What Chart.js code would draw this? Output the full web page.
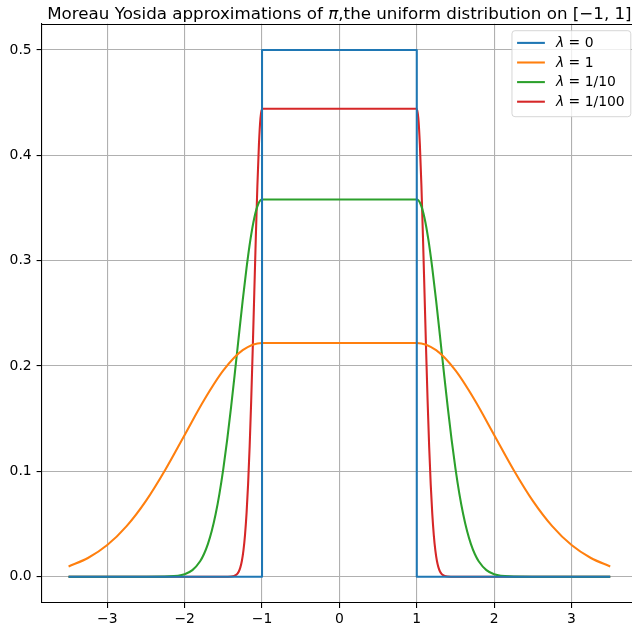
<!DOCTYPE html>
<html><head><meta charset="utf-8">
<script src="https://cdn.jsdelivr.net/npm/chart.js@4/dist/chart.umd.min.js"></script>
<style>
html,body{margin:0;padding:0;background:#fff;overflow:hidden;}
#wrap{width:632px;height:630px;overflow:hidden;position:relative;background:#fff;}
canvas{display:block;}
</style></head><body>
<div id="wrap"><canvas id="c" width="640" height="630" style="width:640px;height:630px"></canvas></div>
<script>
// ---- text ----
const titleParts = [
  {t: 'Moreau Yosida approximations of ', i: false},
  {t: 'π', i: true},
  {t: ',the uniform distribution on [−1, 1]', i: false}
];
const seriesNames = ['0', '1', '1/10', '1/100'];   // shown as "λ = name"
const seriesColors = ['#1f77b4', '#ff7f0e', '#2ca02c', '#d62728'];

// ---- ticks ----
const xTickValues = [-3, -2, -1, 0, 1, 2, 3];
const yTickValues = [0, 0.1, 0.2, 0.3, 0.4, 0.5];

// ---- data ----
const lambda0X = [-3.5, -1, -1, 1, 1, 3.5];
const lambda0Y = [0, 0, 0.5, 0.5, 0, 0];

const lambda1X = [-3.5,-3.25,-3,-2.75,-2.5,-2.25,-2,-1.75,-1.5,-1.25,-1,0,1,1.25,1.5,1.75,2,2.25,2.5,2.75,3,3.25,3.5];
const lambda1Y = [0.0097,0.0177,0.0300,0.0480,0.0720,0.1016,0.1346,0.1675,0.1958,0.2150,0.2219,0.2219,0.2219,0.2150,0.1958,0.1675,0.1346,0.1016,0.0720,0.0480,0.0300,0.0177,0.0097];

const lambda10X = [-3.5,-2.5,-2.2,-2,-1.9,-1.8,-1.75,-1.7,-1.65,-1.6,-1.55,-1.5,-1.45,-1.4,-1.35,-1.3,-1.25,-1.2,-1.15,-1.1,-1.05,-1,
  0,
  1,1.05,1.1,1.15,1.2,1.25,1.3,1.35,1.4,1.45,1.5,1.55,1.6,1.65,1.7,1.75,1.8,1.9,2,2.2,2.5,3.5];
const lambda10Y = [0,0,0.0003,0.0024,0.0062,0.0146,0.0215,0.0309,0.0433,0.0592,0.0789,0.1026,0.1301,0.1609,0.1941,0.2283,0.2620,0.2932,0.3200,0.3406,0.3536,0.3581,
  0.3581,
  0.3581,0.3536,0.3406,0.3200,0.2932,0.2620,0.2283,0.1941,0.1609,0.1301,0.1026,0.0789,0.0592,0.0433,0.0309,0.0215,0.0146,0.0062,0.0024,0.0003,0,0];

const lambda100X = [-3.5,-2,-1.5,-1.4,-1.36,-1.34,-1.32,-1.3,-1.28,-1.26,-1.24,-1.22,-1.2,-1.18,-1.16,-1.14,-1.12,-1.1,-1.08,-1.06,-1.04,-1.02,-1,
  0,
  1,1.02,1.04,1.06,1.08,1.1,1.12,1.14,1.16,1.18,1.2,1.22,1.24,1.26,1.28,1.3,1.32,1.34,1.36,1.4,1.5,2,3.5];
const lambda100Y = [0,0,0,0.0002,0.0007,0.0014,0.0027,0.0049,0.0088,0.0151,0.0249,0.0395,0.0601,0.0879,0.1235,0.1668,0.2163,0.2695,0.3226,0.3711,0.4102,0.4355,0.4443,
  0.4443,
  0.4443,0.4355,0.4102,0.3711,0.3226,0.2695,0.2163,0.1668,0.1235,0.0879,0.0601,0.0395,0.0249,0.0151,0.0088,0.0049,0.0027,0.0014,0.0007,0.0002,0,0,0];

const seriesX = [lambda0X, lambda1X, lambda10X, lambda100X];
const seriesY = [lambda0Y, lambda1Y, lambda10Y, lambda100Y];

// ---- styling ----
const FONT = "'DejaVu Sans'";
const TICK_FS = 13.9;
const TITLE_FS = 16.7;
const LW = 2.08;
const SPINE = '#000000';
const GRID = '#b0b0b0';

const minus = s => String(s).replace('-', '−');

const datasets = seriesX.map((xs, k) => ({
  label: 'λ = ' + seriesNames[k],
  data: xs.map((x, i) => ({x: x, y: seriesY[k][i]})),
  borderColor: seriesColors[k],
  backgroundColor: seriesColors[k],
  borderWidth: LW,
  pointRadius: 0,
  fill: false,
  tension: 0,
  cubicInterpolationMode: k === 0 ? 'default' : 'monotone',
  borderJoinStyle: 'round',
  borderCapStyle: 'butt'
}));

const titlePlugin = {
  id: 'mplTitle',
  afterDraw(chart) {
    const ctx = chart.ctx, a = chart.chartArea;
    ctx.save();
    ctx.fillStyle = '#000';
    ctx.textBaseline = 'alphabetic';
    const fonts = titleParts.map(p => (p.i ? 'italic ' : '') + TITLE_FS + 'px ' + FONT);
    let total = 0;
    const widths = titleParts.map((p, i) => { ctx.font = fonts[i]; const w = ctx.measureText(p.t).width; total += w; return w; });
    let x = (a.left + a.right) / 2 - total / 2;
    const y = a.top - 4.5;
    titleParts.forEach((p, i) => { ctx.font = fonts[i]; ctx.textAlign = 'left'; ctx.fillText(p.t, x, y); x += widths[i]; });
    // top spine
    ctx.strokeStyle = SPINE; ctx.lineWidth = 1.1;
    ctx.beginPath(); ctx.moveTo(a.left, Math.round(a.top) + 0.5); ctx.lineTo(a.right, Math.round(a.top) + 0.5); ctx.stroke();
    ctx.beginPath(); ctx.moveTo(Math.round(a.right) + 0.5, a.top); ctx.lineTo(Math.round(a.right) + 0.5, a.bottom); ctx.stroke();
    ctx.restore();
  }
};

const legendPlugin = {
  id: 'mplLegend',
  afterDatasetsDraw(chart) {
    const ctx = chart.ctx, a = chart.chartArea;
    const fs = TICK_FS;
    const fN = fs + 'px ' + FONT, fI = 'italic ' + fs + 'px ' + FONT;
    ctx.save();
    // measure
    let maxW = 0;
    const lam = 'λ';
    ctx.font = fI; const wl = ctx.measureText(lam).width;
    ctx.font = fN;
    chart.data.datasets.forEach((d, i) => { const w = wl + ctx.measureText(' = ' + seriesNames[i]).width; if (w > maxW) maxW = w; });
    const pad = 5.6, handle = 27.8, tpad = 11.1;
    const w = pad + handle + tpad + maxW + pad;
    const h = 86;
    const right = a.right - 7, top = a.top + 6.5;
    const left = right - w;
    ctx.beginPath();
    ctx.roundRect(left + 0.5, top + 0.5, w, h, 3);
    ctx.fillStyle = 'rgba(255,255,255,0.8)';
    ctx.fill();
    ctx.strokeStyle = 'rgba(204,204,204,0.8)';
    ctx.lineWidth = 1;
    ctx.stroke();
    chart.data.datasets.forEach((d, i) => {
      const cy = top + 12.7 + i * 19.6;
      ctx.strokeStyle = d.borderColor; ctx.lineWidth = LW;
      ctx.beginPath(); ctx.moveTo(left + pad, cy); ctx.lineTo(left + pad + handle, cy); ctx.stroke();
      ctx.fillStyle = '#000'; ctx.textBaseline = 'middle'; ctx.textAlign = 'left';
      const tx = left + pad + handle + tpad;
      ctx.font = fI; ctx.fillText(lam, tx, cy + 0.5);
      ctx.font = fN; ctx.fillText(' = ' + seriesNames[i], tx + wl, cy + 0.5);
    });
    ctx.restore();
  }
};

Chart.defaults.font.family = FONT;
Chart.defaults.color = '#000';

new Chart(document.getElementById('c'), {
  type: 'line',
  data: {datasets: datasets},
  options: {
    responsive: false,
    animation: false,
    devicePixelRatio: 1,
    layout: {padding: {top: 23.7, right: 2.7, left: 0, bottom: 0}},
    plugins: {legend: {display: false}, title: {display: false}, tooltip: {enabled: false}},
    scales: {
      x: {
        type: 'linear', min: -3.85, max: 3.85,
        afterBuildTicks: s => { s.ticks = xTickValues.map(v => ({value: v})); },
        afterFit: s => { s.height = 27; },
        grid: {color: GRID, lineWidth: 1.1, drawTicks: true, tickLength: 4.9, tickColor: SPINE, tickWidth: 1.1},
        border: {color: SPINE, width: 1.1},
        ticks: {font: {size: TICK_FS}, color: '#000', padding: 3.5, maxRotation: 0, autoSkip: false,
          callback: v => minus(v)}
      },
      y: {
        type: 'linear', min: -0.025, max: 0.525,
        afterBuildTicks: s => { s.ticks = yTickValues.map(v => ({value: v})); },
        afterFit: s => { s.width = 41.5; },
        grid: {color: GRID, lineWidth: 1.1, drawTicks: true, tickLength: 4.9, tickColor: SPINE, tickWidth: 1.1},
        border: {color: SPINE, width: 1.1},
        ticks: {font: {size: TICK_FS}, color: '#000', padding: 4.9, autoSkip: false,
          callback: v => minus(Number(v).toFixed(1))}
      }
    }
  },
  plugins: [titlePlugin, legendPlugin]
});
</script>
</body></html>
